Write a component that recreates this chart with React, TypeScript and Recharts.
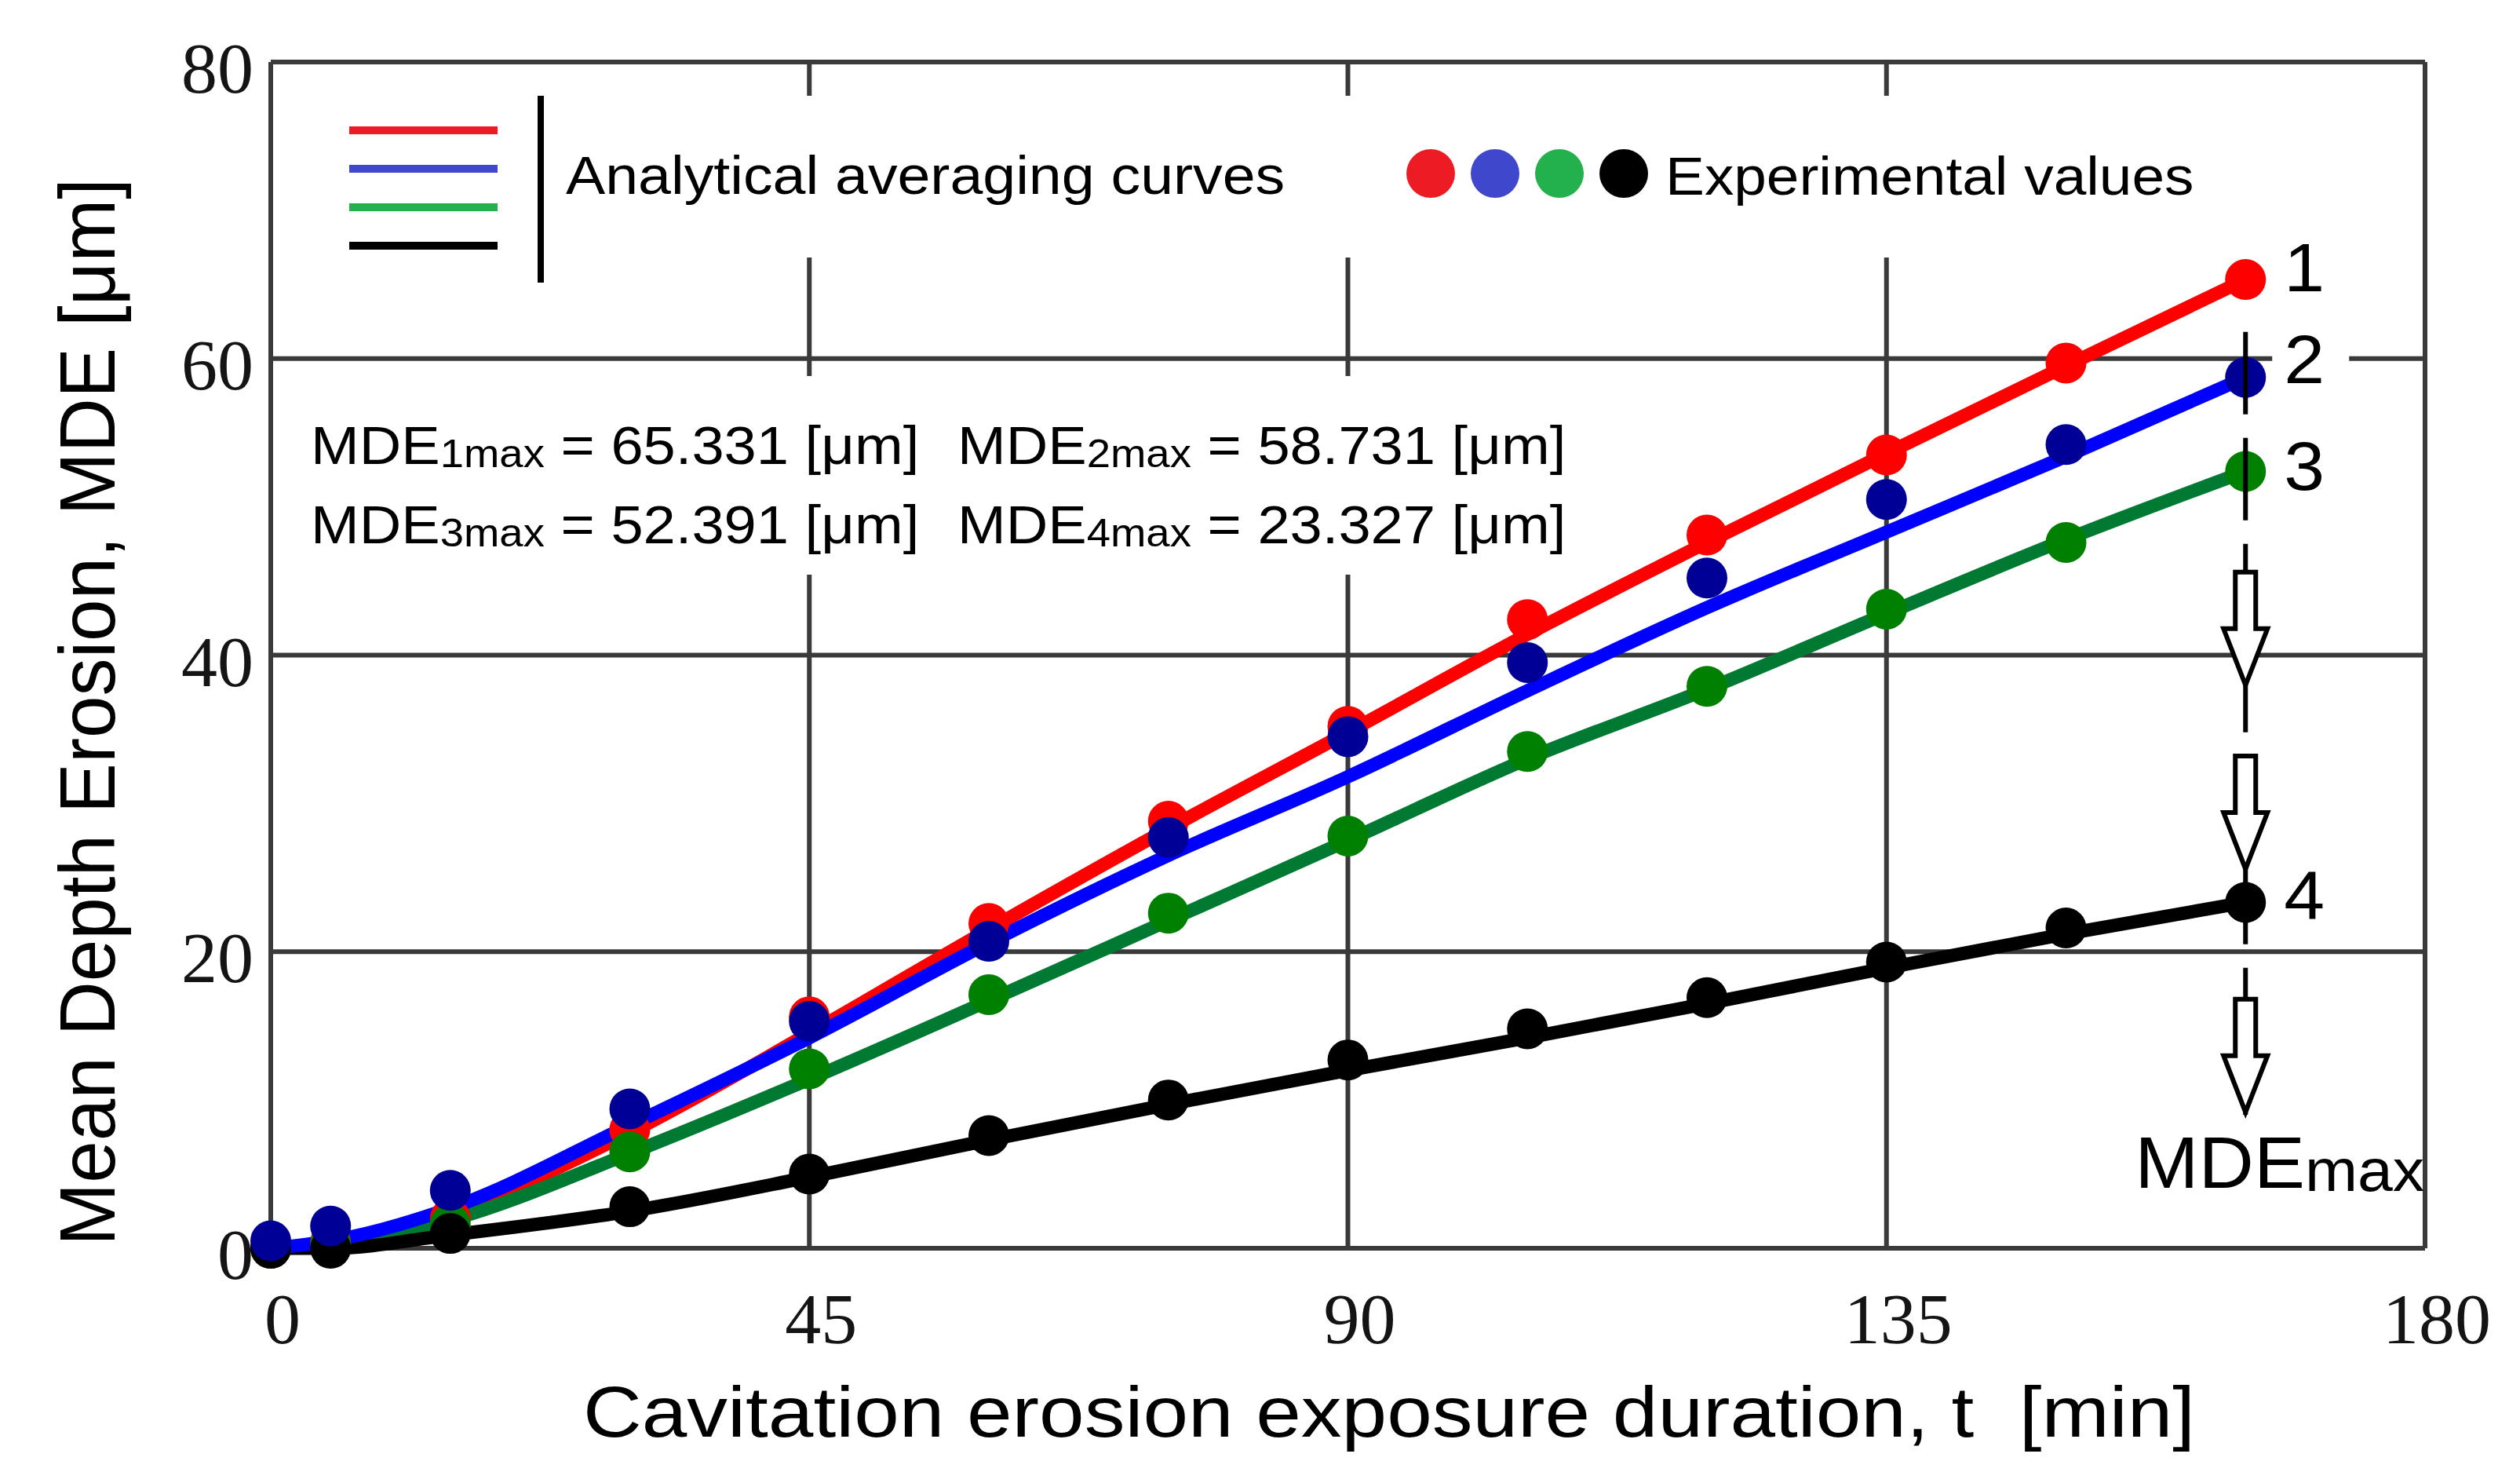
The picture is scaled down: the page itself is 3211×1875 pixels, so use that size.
import { ComposedChart, Line, XAxis, YAxis, CartesianGrid, ReferenceDot } from 'recharts';

// exposure times [min]
const TIMES = [0, 5, 15, 30, 45, 60, 75, 90, 105, 120, 135, 150, 165];

// experimental values [µm]
const EXP_1 = [0, 0.4, 2.0, 8.0, 15.6, 21.9, 28.8, 35.2, 42.4, 48.1, 53.5, 59.7, 65.331];
const EXP_2 = [0.5, 1.5, 3.9, 9.4, 15.3, 20.7, 27.7, 34.5, 39.5, 45.2, 50.5, 54.2, 58.731];
const EXP_3 = [0, 0.3, 1.6, 6.5, 12.1, 17.1, 22.6, 27.8, 33.5, 37.9, 43.1, 47.6, 52.391];
const EXP_4 = [0, 0, 1.0, 2.8, 5.0, 7.6, 10.0, 12.7, 14.8, 16.9, 19.3, 21.6, 23.327];

// analytical averaging curves [µm]
const FIT_1 = [0, 0.3, 2.4, 7.8, 14.5, 21.5, 28.3, 34.8, 41.4, 47.6, 53.6, 59.5, 65.331];
const FIT_2 = [0, 0.5, 2.7, 8.3, 14.2, 20.6, 26.5, 31.8, 37.6, 43.2, 48.3, 53.4, 58.731];
const FIT_3 = [0, 0.2, 1.9, 6.4, 11.4, 16.7, 22.1, 27.5, 33.0, 37.7, 42.8, 47.8, 52.391];
const FIT_4 = [0, 0, 0.9, 2.5, 4.8, 7.3, 9.7, 12.0, 14.2, 16.5, 18.9, 21.2, 23.327];

const X_TICKS = [0, 45, 90, 135, 180];
const Y_TICKS = [0, 20, 40, 60, 80];

const MDE_MAX = ['65.331', '58.731', '52.391', '23.327'];
const CURVE_NAMES = ['1', '2', '3', '4'];
const LAST_T = 165;
const CURVE_LABEL_Y = [66.2, 60.0, 52.8, 23.8];
const ARROW_TOPS = [45.6, 33.2, 16.8];
const DASH_FROM = 61.8;
const DASH_TO = 9;
const MDE_LABEL_Y = 4.1;

const rows = TIMES.map((t, i) => ({
  t,
  fit1: FIT_1[i], fit2: FIT_2[i], fit3: FIT_3[i], fit4: FIT_4[i],
  exp1: EXP_1[i], exp2: EXP_2[i], exp3: EXP_3[i], exp4: EXP_4[i],
}));

// dashed MDEmax marker with its arrows
const markerRows = [
  { t: LAST_T, v: DASH_FROM, kind: 'start' },
  ...ARROW_TOPS.map((v) => ({ t: LAST_T, v, kind: 'arrow' })),
  { t: LAST_T, v: DASH_TO, kind: 'end' },
];

const LINE_COLORS = { 1: '#ff0000', 2: '#0000ff', 3: '#007a33', 4: '#000000' };
const DOT_COLORS = { 1: '#ff0000', 2: '#000096', 3: '#008000', 4: '#000000' };
const LEGEND_COLORS = ['#ed1c24', '#3f48cc', '#22b14c', '#000000'];
// draw order: red, green, black, blue
const ORDER = [1, 3, 4, 2];
// series whose last point is crossed by the dashed marker
const CROSSED = [2, 3, 4];

const SANS = '"Liberation Sans", Arial, sans-serif';
const SERIF = '"Liberation Serif", "Times New Roman", serif';
const GRID = '#3a3a3a';

const XTick = ({ x, y, payload }: any) => (
  <text x={x + 15} y={y + 121} textAnchor="middle" fontFamily={SERIF} fontSize={92} fill="#141414">
    {payload.value}
  </text>
);

const YTick = ({ x, y, payload }: any) => (
  <text x={x - 22} y={y + 39} textAnchor="end" fontFamily={SERIF} fontSize={92} fill="#141414">
    {payload.value}
  </text>
);

const Stretch = ({ x, y, sx = 1.09, size = 68, children }: any) => (
  <g transform={`translate(${x} ${y}) scale(${sx} 1)`}>
    <text x={0} y={0} fontFamily={SANS} fontSize={size} fill="#000" style={{ whiteSpace: 'pre' }}>
      {children}
    </text>
  </g>
);

const MdeText = ({ x, y, n, value }: any) => (
  <Stretch x={x} y={y}>
    <tspan>MDE</tspan>
    <tspan fontSize={50} dy={4}>{`${n}max`}</tspan>
    <tspan dy={-4}>{` = ${value} [μm]`}</tspan>
  </Stretch>
);

const expDot = (n: number) => (p: any) => {
  const { cx, cy, payload } = p;
  const t = payload?.t;
  const cross = CROSSED.includes(n) && t === LAST_T;
  return (
    <g key={`exp${n}-${t}`}>
      <circle cx={cx} cy={cy} r={26} fill={DOT_COLORS[n]} />
      {cross && <line x1={cx} x2={cx} y1={cy - 27} y2={cy + 27} stroke="#000" strokeWidth={6} />}
    </g>
  );
};

const arrowPath = (cx: number, cy: number) =>
  `M${cx - 13},${cy} L${cx + 13},${cy} L${cx + 13},${cy + 72} L${cx + 28},${cy + 72} L${cx},${cy + 144} L${cx - 28},${cy + 72} L${cx - 13},${cy + 72} Z`;

const markerDot = (p: any) => {
  const { cx, cy, payload, points } = p;
  const key = `marker-${payload?.kind}-${payload?.v}`;
  if (payload?.kind === 'start' && points && points.length > 1) {
    const last = points[points.length - 1];
    return (
      <line key={key} x1={cx} y1={cy} x2={last.x} y2={last.y} stroke="#000" strokeWidth={6} strokeDasharray="105 30" />
    );
  }
  if (payload?.kind === 'arrow') {
    return <path key={key} d={arrowPath(cx, cy)} fill="#fff" stroke="#000" strokeWidth={6} />;
  }
  return <g key={key} />;
};

const curveLabel = (name: string) => (p: any) => {
  const { cx, cy } = p;
  return (
    <g>
      <rect x={cx + 34} y={cy - 40} width={98} height={80} fill="#fff" />
      <g transform={`translate(${cx + 49} ${cy + 31}) scale(1.06 1)`}>
        <text x={0} y={0} fontFamily={SANS} fontSize={88} fill="#000">{name}</text>
      </g>
    </g>
  );
};

const mdeMaxLabel = (p: any) => {
  const { cx, cy } = p;
  return (
    <g transform={`translate(${cx - 141} ${cy}) scale(1.06 1)`}>
      <text x={0} y={0} fontFamily={SANS} fontSize={92} fill="#000">
        <tspan>MDE</tspan>
        <tspan fontSize={76} dy={4}>max</tspan>
      </text>
    </g>
  );
};

export default function App() {
  return (
    <div style={{ position: 'absolute', left: 0, top: 0, width: 3211, height: 1875, background: '#fff' }}>
      <ComposedChart
        width={3211}
        height={1875}
        data={rows}
        margin={{ top: 79, right: 121, bottom: 185, left: 245 }}
      >
        <CartesianGrid stroke={GRID} strokeWidth={6} />
        <XAxis
          dataKey="t"
          type="number"
          domain={[0, 180]}
          ticks={X_TICKS}
          height={100}
          axisLine={false}
          tickLine={false}
          tickSize={0}
          tickMargin={0}
          tick={XTick}
        />
        <YAxis
          type="number"
          domain={[0, 80]}
          ticks={Y_TICKS}
          width={100}
          axisLine={false}
          tickLine={false}
          tickSize={0}
          tickMargin={0}
          tick={YTick}
        />
        <Line
          data={markerRows}
          dataKey="v"
          type="linear"
          stroke="none"
          strokeWidth={0}
          dot={markerDot}
          activeDot={false}
          isAnimationActive={false}
        />
        {ORDER.flatMap((n) => [
          <Line
            key={`exp${n}`}
            dataKey={`exp${n}`}
            stroke="none"
            strokeWidth={0}
            dot={expDot(n)}
            activeDot={false}
            isAnimationActive={false}
          />,
          <Line
            key={`fit${n}`}
            dataKey={`fit${n}`}
            type="monotone"
            stroke={LINE_COLORS[n]}
            strokeWidth={17}
            dot={false}
            activeDot={false}
            isAnimationActive={false}
          />,
        ])}
        {CURVE_NAMES.map((name, i) => (
          <ReferenceDot key={`lab${i}`} x={LAST_T} y={CURVE_LABEL_Y[i]} r={1} shape={curveLabel(name)} />
        ))}
        <ReferenceDot x={LAST_T} y={MDE_LABEL_Y} r={1} shape={mdeMaxLabel} />
      </ComposedChart>

      <svg
        width={3211}
        height={1875}
        style={{ position: 'absolute', left: 0, top: 0, pointerEvents: 'none' }}
      >
        {/* white boxes behind the legend and the MDE text */}
        <rect x={395} y={122} width={2445} height={206} fill="#fff" />
        <rect x={380} y={479} width={1630} height={253} fill="#fff" />

        {LEGEND_COLORS.map((c, i) => (
          <line key={`ll${i}`} x1={445} x2={634} y1={166 + i * 49} y2={166 + i * 49} stroke={c} strokeWidth={10} />
        ))}
        <line x1={689} x2={689} y1={122} y2={360} stroke="#000" strokeWidth={8} />
        <Stretch x={721} y={247} sx={1.107}>Analytical averaging curves</Stretch>
        {LEGEND_COLORS.map((c, i) => (
          <circle key={`ld${i}`} cx={1823 + i * 82} cy={221} r={31} fill={c} />
        ))}
        <Stretch x={2122} y={248} sx={1.1}>Experimental values</Stretch>

        <MdeText x={396} y={591} n={1} value={MDE_MAX[0]} />
        <MdeText x={1220} y={591} n={2} value={MDE_MAX[1]} />
        <MdeText x={396} y={692} n={3} value={MDE_MAX[2]} />
        <MdeText x={1220} y={692} n={4} value={MDE_MAX[3]} />

        <text
          x={743}
          y={1830}
          fontFamily={SANS}
          fontSize={90}
          textLength={2054}
          lengthAdjust="spacingAndGlyphs"
          fill="#000"
          style={{ whiteSpace: 'pre' }}
        >
          {'Cavitation erosion exposure duration, t  [min]'}
        </text>
        <g transform="translate(146 907) rotate(-90)">
          <text
            x={0}
            y={0}
            textAnchor="middle"
            fontFamily={SANS}
            fontSize={100}
            textLength={1360}
            lengthAdjust="spacingAndGlyphs"
            fill="#000"
          >
            Mean Depth Erosion, MDE [μm]
          </text>
        </g>
      </svg>
    </div>
  );
}
